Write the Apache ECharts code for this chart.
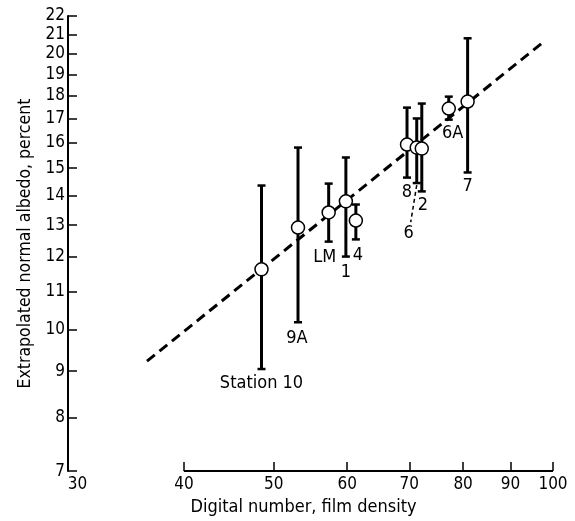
<!DOCTYPE html>
<html>
<head>
<meta charset="utf-8">
<script src="https://cdn.jsdelivr.net/npm/echarts@6/dist/echarts.min.js"></script>
<style>
html,body{margin:0;padding:0;background:#fff;}
#chart{width:575px;height:521px;}
</style>
</head>
<body>
<div id="chart"></div>
<script>
// ---- data ----
const stations   = ['Station 10', '9A', 'LM', '1', '4', '8', '6', '2', '6A', '7'];
const digitalNum = [48.5, 53.1, 57.3, 59.8, 61.3, 69.6, 71.3, 72.2, 77.2, 80.9];
const albedo     = [11.63, 12.92, 13.42, 13.80, 13.15, 15.92, 15.80, 15.76, 17.43, 17.74];
const albedoHigh = [14.36, 15.80, 14.43, 15.41, 13.69, 17.47, 17.00, 17.65, 17.96, 20.80];
const albedoLow  = [9.05, 10.18, 12.47, 12.01, 12.54, 14.65, 14.45, 14.15, 16.95, 14.84];
const fitX = [36.5, 98];
const fitY = [9.23, 20.67];
const xAxisLineRange = [40, 100];
const xTickValues = [40, 50, 60, 70, 80, 90, 100];
const xLabelValues = [30, 40, 50, 60, 70, 80, 90, 100];
const yTickValues = [7, 8, 9, 10, 11, 12, 13, 14, 15, 16, 17, 18, 19, 20, 21, 22];
const xRange = [30, 100];
const yRange = [7, 22];

// ---- label placement (pixel offsets from the lower end of each bar) ----
const labelOffsets = {
  'Station 10': [0, 14], '9A': [-1, 16], 'LM': [-4, 16], '1': [0, 16], '4': [2, 16],
  '8': [0, 15], '6': [-8, 50], '2': [1, 14], '6A': [4, 14], '7': [0, 14]
};

const L = Math.log10;
const FONT = "'DejaVu Sans Condensed', 'Liberation Sans Narrow', 'Roboto Condensed', 'DejaVu Sans', sans-serif";

const chart = echarts.init(document.getElementById('chart'), null, {renderer: 'canvas'});

const barData = digitalNum.map((x, i) => [L(x), L(albedoLow[i]), L(albedoHigh[i]), i]);
const ptData = digitalNum.map((x, i) => [L(x), L(albedo[i])]);

const option = {
  animation: false,
  backgroundColor: '#fff',
  grid: {left: 68, right: 22, top: 16, bottom: 49},
  xAxis: {
    type: 'value',
    min: L(xRange[0]), max: L(xRange[1]),
    axisLine: {show: false},
    splitLine: {show: false},
    axisTick: {show: true, inside: true, length: 9, customValues: xTickValues.map(L),
      lineStyle: {color: '#000', width: 1.5}},
    axisLabel: {
      customValues: xLabelValues.map(L),
      color: '#000', fontSize: 17, fontFamily: FONT, margin: 5,
      formatter: v => {
        const n = Math.round(Math.pow(10, v));
        return n === 30 ? '{a|30}' : String(n);
      },
      rich: {a: {fontSize: 17, fontFamily: FONT, color: '#000', padding: [0, 0, 0, 19]}}
    },
    name: 'Digital number, film density',
    nameLocation: 'middle', nameGap: 23,
    nameTextStyle: {color: '#000', fontSize: 18, fontFamily: FONT, padding: [0, 14, 0, 0]}
  },
  yAxis: {
    type: 'value',
    min: L(yRange[0]), max: L(yRange[1]),
    axisLine: {show: true, lineStyle: {color: '#000', width: 2}},
    splitLine: {show: false},
    axisTick: {show: true, inside: true, length: 9, customValues: yTickValues.map(L),
      lineStyle: {color: '#000', width: 1.5}},
    axisLabel: {
      customValues: yTickValues.map(L),
      color: '#000', fontSize: 17, fontFamily: FONT, margin: 3,
      formatter: v => String(Math.round(Math.pow(10, v)))
    },
    name: 'Extrapolated normal albedo, percent',
    nameLocation: 'middle', nameGap: 33, nameRotate: 90,
    nameTextStyle: {color: '#000', fontSize: 17.5, fontFamily: FONT}
  },
  series: [
    {
      type: 'line', clip: false, symbol: 'none', silent: true,
      data: xAxisLineRange.map(x => [L(x), L(yRange[0])]),
      lineStyle: {color: '#000', width: 2}
    },
    {
      type: 'line', clip: false, symbol: 'none', silent: true, z: 2,
      data: fitX.map((x, i) => [L(x), L(fitY[i])]),
      lineStyle: {color: '#000', width: 3, type: [10, 6]}
    },
    {
      type: 'custom', z: 3,
      data: barData,
      renderItem: (params, api) => {
        const x = api.value(0), lo = api.value(1), hi = api.value(2);
        const pLo = api.coord([x, lo]);
        const pHi = api.coord([x, hi]);
        const c = 4;
        return {
          type: 'group',
          children: [
            {type: 'line', shape: {x1: pLo[0], y1: pLo[1], x2: pHi[0], y2: pHi[1]}, style: {stroke: '#000', lineWidth: 3}},
            {type: 'line', shape: {x1: pHi[0] - c, y1: pHi[1], x2: pHi[0] + c, y2: pHi[1]}, style: {stroke: '#000', lineWidth: 2.5}},
            {type: 'line', shape: {x1: pLo[0] - c, y1: pLo[1], x2: pLo[0] + c, y2: pLo[1]}, style: {stroke: '#000', lineWidth: 2.5}}
          ]
        };
      }
    },
    {
      type: 'scatter', z: 4,
      data: ptData,
      symbol: 'circle', symbolSize: 13,
      itemStyle: {color: '#fff', opacity: 1, borderColor: '#000', borderWidth: 1.5},
      emphasis: {disabled: true}
    },
    {
      type: 'custom', z: 5,
      data: barData,
      renderItem: (params, api) => {
        const i = api.value(3);
        const name = stations[i];
        const p = api.coord([api.value(0), api.value(1)]);
        const off = labelOffsets[name];
        const children = [{
          type: 'text',
          style: {text: name, x: p[0] + off[0], y: p[1] + off[1], align: 'center', verticalAlign: 'middle',
            fill: '#000', fontSize: 18, fontFamily: FONT}
        }];
        if (name === '6') {
          children.push({type: 'line', shape: {x1: p[0], y1: p[1] + 2, x2: p[0] - 6, y2: p[1] + 39},
            style: {stroke: '#000', lineWidth: 1.5, lineDash: [4, 3]}});
        }
        return {type: 'group', children};
      }
    }
  ]
};
chart.setOption(option);
</script>
</body>
</html>
